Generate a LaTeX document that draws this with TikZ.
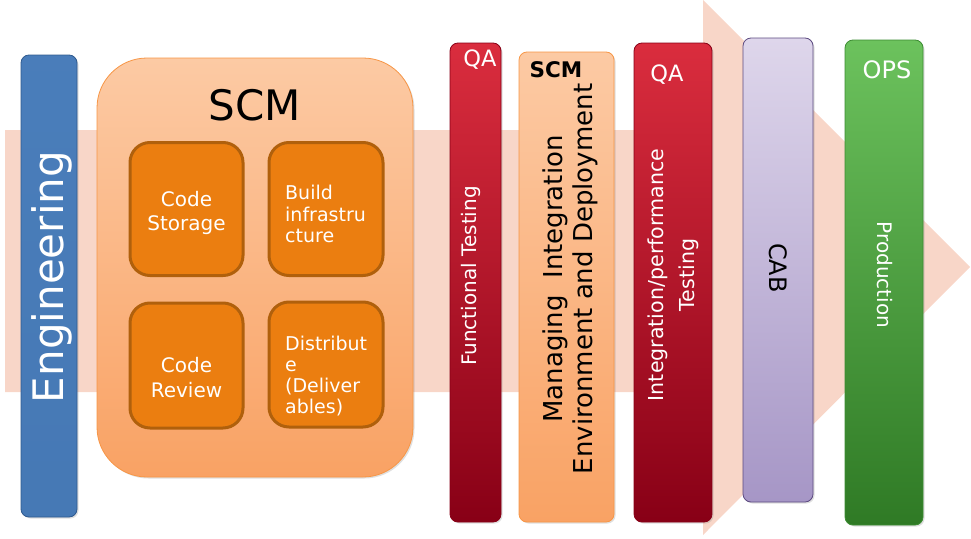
\documentclass[tikz,border=0pt]{standalone}
\usepackage{fontspec}
\setmainfont{DejaVu Sans}
\usetikzlibrary{shadows}
\definecolor{arrowbg}{RGB}{248,214,200}
\definecolor{engtop}{RGB}{120,160,210}
\definecolor{engmid}{RGB}{74,126,187}
\definecolor{engbot}{RGB}{68,118,178}
\definecolor{engline}{RGB}{47,90,143}
\definecolor{scmtop}{RGB}{252,202,164}
\definecolor{scmbot}{RGB}{249,162,100}
\definecolor{scmline}{RGB}{247,150,70}
\definecolor{innerfill}{RGB}{235,126,16}
\definecolor{innerline}{RGB}{176,96,12}
\definecolor{qatop}{RGB}{218,45,62}
\definecolor{qabot}{RGB}{136,0,22}
\definecolor{cabtop}{RGB}{222,214,235}
\definecolor{cabbot}{RGB}{166,150,198}
\definecolor{cabline}{RGB}{92,74,128}
\definecolor{opstop}{RGB}{108,194,93}
\definecolor{opsbot}{RGB}{47,122,37}
\definecolor{opsline}{RGB}{60,140,50}
\pgfdeclareverticalshading{engshade}{100bp}{color(0bp)=(engbot); color(80bp)=(engmid); color(90bp)=(engmid); color(100bp)=(engtop)}
\tikzset{
  bar/.style={rounded corners=8pt, draw, line width=0.8pt, inner sep=0pt,
    drop shadow={shadow xshift=1.5pt, shadow yshift=-1.5pt, opacity=0.25}},
  engbar/.style={bar, draw=engline, shading=engshade},
  qabar/.style={bar, draw=qabot, top color=qatop, bottom color=qabot},
  scmbar/.style={bar, draw=scmline, top color=scmtop, bottom color=scmbot},
  cabbar/.style={bar, draw=cabline, top color=cabtop, bottom color=cabbot},
  opsbar/.style={bar, draw=opsline, top color=opstop, bottom color=opsbot},
  bigscm/.style={rounded corners=50pt, draw=scmline, line width=0.8pt, top color=scmtop, bottom color=scmbot,
    drop shadow={shadow xshift=1.5pt, shadow yshift=-1.5pt, opacity=0.25}},
  innerbox/.style={rounded corners=20pt, draw=innerline, line width=3pt, fill=innerfill},
  wtext/.style={text=white, inner sep=0pt},
  btext/.style={text=black, inner sep=0pt},
}
\begin{document}
\begin{tikzpicture}[x=1pt,y=-1pt]
\useasboundingbox (0,0) rectangle (971,538);
% big background arrow
\fill[arrowbg] (5,130) -- (703,130) -- (703,0) -- (970,267) -- (703,535) -- (703,392) -- (5,392) -- cycle;
% Engineering
\node[engbar, minimum width=56pt, minimum height=462pt] (eng) at (49,286) {};
\node[wtext, rotate=90, font=\fontsize{42}{49}\selectfont] (engt) at (52,277) {Engineering};
% SCM big box
\node[bigscm, minimum width=316pt, minimum height=419pt] (scm) at (255,267.5) {};
\node[btext, font=\fontsize{42}{50}\selectfont] (scmt) at (255,105) {SCM};
\node[innerbox, minimum width=113pt, minimum height=133pt] (cs) at (186.5,209) {};
\node[innerbox, minimum width=114pt, minimum height=133pt] (bi) at (326,209) {};
\node[innerbox, minimum width=113pt, minimum height=125pt] (cr) at (186.5,365.5) {};
\node[innerbox, minimum width=114pt, minimum height=125pt] (di) at (326,364.5) {};
\node[wtext, align=center, font=\fontsize{20}{24}\selectfont] (cst) at (186.5,213) {Code\\Storage};
\node[wtext, align=left, anchor=west, font=\fontsize{19}{21.5}\selectfont] (bit) at (285,214) {Build\\infrastru\\cture};
\node[wtext, align=center, font=\fontsize{20}{25}\selectfont] (crt) at (186.5,378) {Code\\Review};
\node[wtext, align=left, anchor=west, font=\fontsize{19}{21}\selectfont] (dit) at (285,376) {Distribut\\e\\(Deliver\\ables)};
% QA 1
\node[qabar, minimum width=51pt, minimum height=479pt] (qa1) at (475.5,282.5) {};
\node[wtext, font=\fontsize{22.5}{26}\selectfont] (qa1t) at (480,60) {QA};
\node[wtext, rotate=90, font=\fontsize{20}{24}\selectfont] (qa1b) at (471,276) {Functional Testing};
% SCM 2
\node[scmbar, minimum width=95pt, minimum height=470pt] (scm2) at (566.5,287) {};
\node[btext, font=\bfseries\fontsize{21.5}{25}\selectfont] (scm2t) at (556,70) {SCM};
\node[btext, rotate=90, align=center, font=\fontsize{26}{30}\selectfont] (scm2b) at (570,279) {Managing~~Integration\\Environment and Deployment};
% QA 2
\node[qabar, minimum width=78pt, minimum height=479pt] (qa2) at (673,282.5) {};
\node[wtext, font=\fontsize{22.5}{26}\selectfont] (qa2t) at (667,75) {QA};
\node[wtext, rotate=90, align=center, font=\fontsize{20.6}{31}\selectfont] (qa2b) at (673,275) {Integration/performance\\Testing};
% CAB
\node[cabbar, minimum width=70pt, minimum height=464pt] (cab) at (778,270) {};
\node[btext, rotate=-90, font=\fontsize{24}{28}\selectfont] (cabt) at (778,268) {CAB};
% OPS
\node[opsbar, minimum width=78pt, minimum height=485pt] (ops) at (884,282.5) {};
\node[wtext, font=\fontsize{24}{28}\selectfont] (opst) at (887,70) {OPS};
\node[wtext, rotate=-90, font=\fontsize{20}{24}\selectfont] (opsb) at (885,275) {Production};
\end{tikzpicture}
\end{document}
